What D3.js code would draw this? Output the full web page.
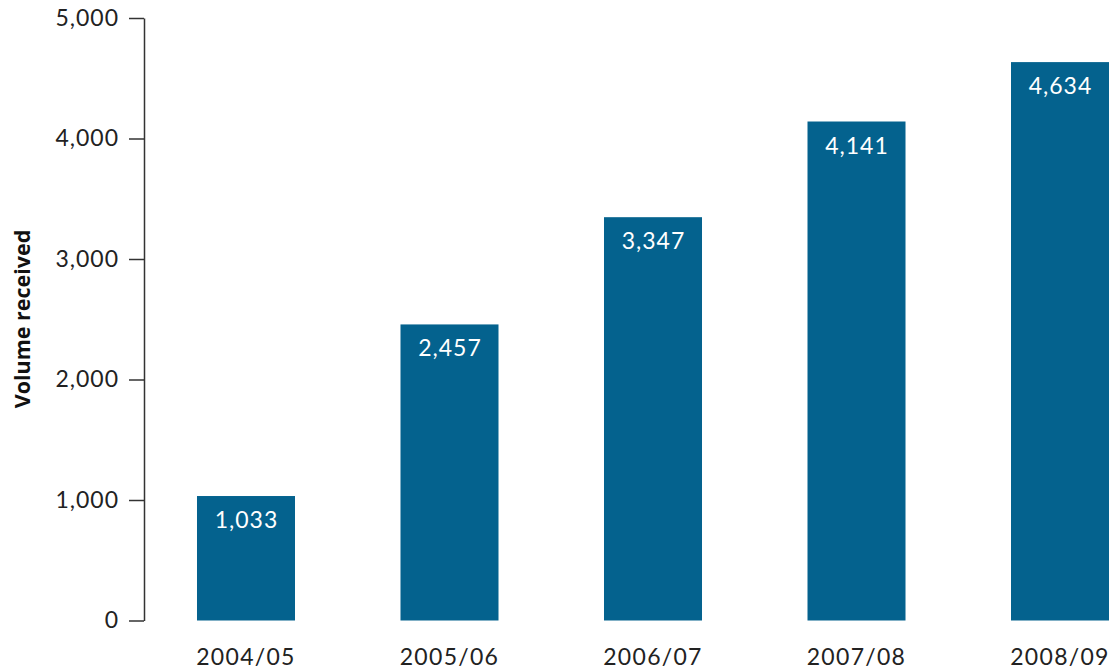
<!DOCTYPE html>
<html>
<head>
<meta charset="utf-8">
<script src="https://cdn.jsdelivr.net/npm/d3@7"></script>
<style>
  html, body { margin: 0; padding: 0; background: #fff; }
  svg { display: block; }
  .tick text { font-family: Lato, "Open Sans", sans-serif; font-size: 23px; letter-spacing: 1px; fill: #222; }
</style>
</head>
<body>
<svg id="chart" width="1119" height="672"></svg>
<script>
// Annual volume received
const years = ["2004/05", "2005/06", "2006/07", "2007/08", "2008/09"];
const volumes = [1033, 2457, 3347, 4141, 4634];
const yTicks = [0, 1000, 2000, 3000, 4000, 5000];

const svg = d3.select("#chart");
const axisX = 144, plotTop = 18, plotBottom = 620.5;

const x = d3.scaleBand()
  .domain(years)
  .range([axisX, 1162])
  .paddingInner(0.5184)
  .paddingOuter(0.2604);

const y = d3.scaleLinear().domain([0, 5000]).range([plotBottom, plotTop]);

// Bars
svg.append("g")
  .selectAll("rect")
  .data(volumes)
  .join("rect")
  .attr("x", (d, i) => x(years[i]))
  .attr("width", x.bandwidth())
  .attr("y", d => y(d))
  .attr("height", d => y(0) - y(d))
  .attr("fill", "#04628e");

// Value labels inside the bars
svg.append("g")
  .selectAll("text")
  .data(volumes)
  .join("text")
  .attr("x", (d, i) => x(years[i]) + x.bandwidth() / 2 + 0.5)
  .attr("y", d => y(d) + 32)
  .attr("text-anchor", "middle")
  .attr("font-family", "Lato, 'Open Sans', sans-serif")
  .attr("font-size", 23)
  .attr("letter-spacing", "1px")
  .attr("fill", "#fff")
  .text(d => d3.format(",")(d));

// Y axis
const yAxis = d3.axisLeft(y)
  .tickValues(yTicks)
  .tickFormat(d3.format(","))
  .tickSize(15)
  .tickSizeOuter(0)
  .tickPadding(10);

const gy = svg.append("g")
  .attr("transform", `translate(${axisX},0)`)
  .call(yAxis);
gy.select(".domain").attr("stroke", "#333").attr("stroke-width", 1.5);
gy.selectAll(".tick line").attr("stroke", "#333").attr("stroke-width", 1.5);

// Category labels
svg.append("g")
  .selectAll("text")
  .data(years)
  .join("text")
  .attr("x", d => x(d) + x.bandwidth() / 2)
  .attr("y", 665)
  .attr("text-anchor", "middle")
  .attr("font-family", "Lato, 'Open Sans', sans-serif")
  .attr("font-size", 23)
  .attr("letter-spacing", "1.3px")
  .attr("fill", "#222")
  .text(d => d);

// Y axis title
svg.append("text")
  .attr("transform", `translate(30,319) rotate(-90)`)
  .attr("text-anchor", "middle")
  .attr("font-family", "'Open Sans', sans-serif")
  .attr("font-weight", "bold")
  .attr("font-size", 21.5)
  .attr("fill", "#111")
  .text("Volume received");
</script>
</body>
</html>
